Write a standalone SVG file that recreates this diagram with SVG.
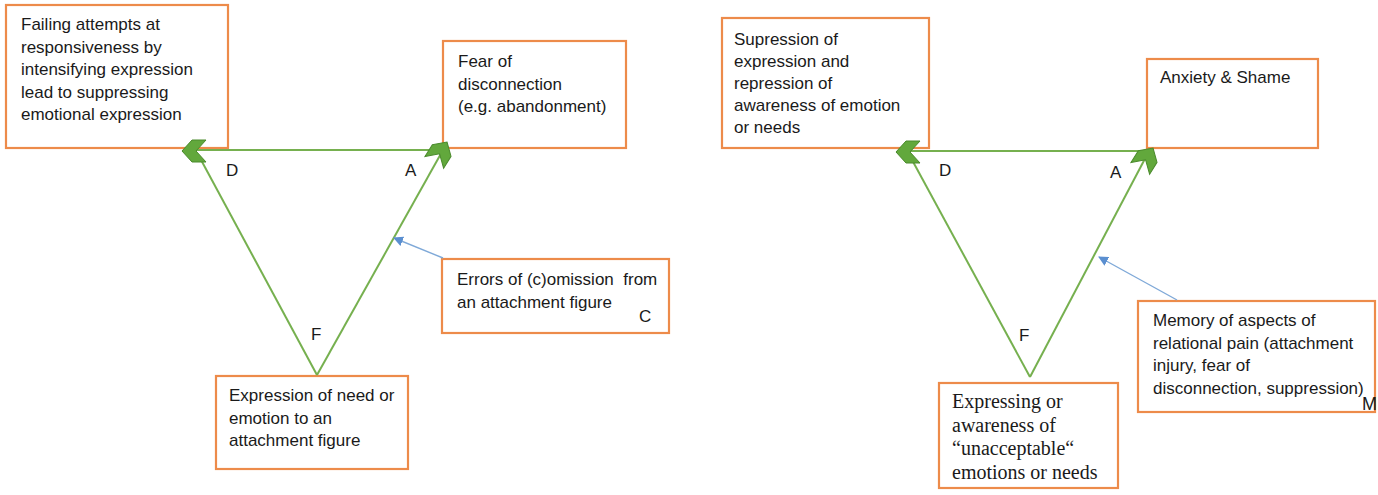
<svg xmlns="http://www.w3.org/2000/svg" width="1378" height="495" viewBox="0 0 1378 495">
<style>
.box{fill:#ffffff;stroke:#ed8b4a;stroke-width:2.2}
.t{font-family:"Liberation Sans",Arial,sans-serif;font-size:17px;fill:#1a1a1a}
.s{font-family:"Liberation Serif","Times New Roman",serif;font-size:20px;fill:#1a1a1a}
.edge{stroke:#76b04f;stroke-width:2;fill:none}
.chev{fill:#62a83c;stroke:#4a8a2c;stroke-width:1}
.blue{stroke:#7fa9d8;stroke-width:1.4;fill:none}
</style>
<defs>
<path id="chev" d="M0,0 L10,-11 L24,-11 L14,0 L24,11 L10,11 Z"/>
<marker id="barrow" markerWidth="10" markerHeight="10" refX="9" refY="5" orient="auto" markerUnits="userSpaceOnUse">
<path d="M0,0 L10,5 L0,10 Z" fill="#5b8fd0"/>
</marker>
</defs>
<rect width="1378" height="495" fill="#ffffff"/>

<g id="left-D">
<rect class="box" x="6" y="5" width="222" height="143"/>
<text class="t" x="21" y="30">Failing attempts at</text>
<text class="t" x="21" y="52.5">responsiveness by</text>
<text class="t" x="21" y="75">intensifying expression</text>
<text class="t" x="21" y="97.5">lead to suppressing</text>
<text class="t" x="21" y="120">emotional expression</text>
</g>
<g id="left-A">
<rect class="box" x="443" y="41" width="183" height="107"/>
<text class="t" x="458" y="67">Fear of</text>
<text class="t" x="458" y="89.5">disconnection</text>
<text class="t" x="458" y="112">(e.g. abandonment)</text>
</g>
<g id="left-C">
<rect class="box" x="442" y="259" width="227" height="74"/>
<text class="t" x="457" y="285" xml:space="preserve">Errors of (c)omission  from</text>
<text class="t" x="457" y="307.5">an attachment figure</text>
<text class="t" x="639" y="322">C</text>
</g>
<g id="left-F">
<rect class="box" x="216" y="376" width="192" height="93"/>
<text class="t" x="229" y="401">Expression of need or</text>
<text class="t" x="229" y="423.5">emotion to an</text>
<text class="t" x="229" y="446">attachment figure</text>
</g>

<g id="right-D">
<rect class="box" x="722" y="18" width="207" height="130"/>
<text class="t" x="734" y="45">Supression of</text>
<text class="t" x="734" y="67">expression and</text>
<text class="t" x="734" y="89">repression of</text>
<text class="t" x="734" y="111">awareness of emotion</text>
<text class="t" x="734" y="133">or needs</text>
</g>
<g id="right-A">
<rect class="box" x="1147" y="59" width="171" height="89"/>
<text class="t" x="1160" y="83">Anxiety &amp; Shame</text>
</g>
<g id="right-M">
<rect class="box" x="1138" y="301" width="237" height="111"/>
<text class="t" x="1153" y="326">Memory of aspects of</text>
<text class="t" x="1153" y="348.5">relational pain (attachment</text>
<text class="t" x="1153" y="371">injury, fear of</text>
<text class="t" x="1153" y="393.5">disconnection, suppression)</text>
<text class="t" x="1362" y="410" style="font-size:18px">M</text>
</g>
<g id="right-F">
<rect class="box" x="939" y="383" width="179" height="105"/>
<text class="s" x="952" y="408">Expressing or</text>
<text class="s" x="952" y="431.5">awareness of</text>
<text class="s" x="952" y="455">“unacceptable“</text>
<text class="s" x="952" y="478.5">emotions or needs</text>
</g>

<g id="connectors">
<line class="edge" x1="190" y1="150" x2="444" y2="150"/>
<line class="edge" x1="200" y1="158" x2="317" y2="375"/>
<line class="edge" x1="317" y1="375" x2="443" y2="150"/>
<use href="#chev" class="chev" transform="translate(182,151)"/>
<use href="#chev" class="chev" transform="translate(447,142) rotate(122)"/>
<line class="blue" x1="443" y1="258" x2="394" y2="238" marker-end="url(#barrow)"/>

<line class="edge" x1="904" y1="151" x2="1149" y2="151"/>
<line class="edge" x1="911" y1="158" x2="1030" y2="377"/>
<line class="edge" x1="1030" y1="377" x2="1148" y2="153"/>
<use href="#chev" class="chev" transform="translate(896,152)"/>
<use href="#chev" class="chev" transform="translate(1153,148) rotate(122)"/>
<line class="blue" x1="1177" y1="300" x2="1099" y2="257" marker-end="url(#barrow)"/>
</g>

<g id="labels">
<text class="t" x="226" y="176">D</text>
<text class="t" x="405" y="176">A</text>
<text class="t" x="311" y="340">F</text>
<text class="t" x="939" y="176">D</text>
<text class="t" x="1110" y="178">A</text>
<text class="t" x="1019" y="341">F</text>
</g>
</svg>
